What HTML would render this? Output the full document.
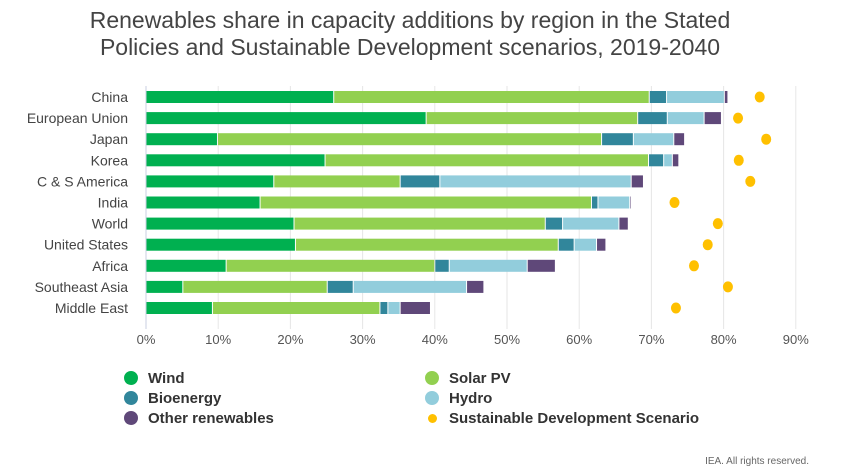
<!DOCTYPE html>
<html><head><meta charset="utf-8"><style>
body{margin:0;background:#fff;font-family:"Liberation Sans",sans-serif;}
#wrap{position:relative;width:842px;height:476px;overflow:hidden}
.title{position:absolute;left:-11px;width:842px;top:7px;text-align:center;font-size:23px;line-height:27px;color:#444}
.leg{position:absolute;font-size:15px;color:#333;font-weight:bold}
.leg span{display:inline-block;width:14px;height:14px;border-radius:50%;vertical-align:-2px;margin-right:10px}
.foot{position:absolute;right:33px;top:456px;font-size:10px;color:#666}
</style></head><body>
<div id="wrap">
<div class="title">Renewables share in capacity additions by region in the Stated<br>Policies and Sustainable Development scenarios, 2019-2040</div>
<svg id="svg" width="842" height="476" style="position:absolute;left:0;top:0"></svg>
<div class="leg" style="left:124px;top:370px"><span style="background:#00b050"></span>Wind</div>
<div class="leg" style="left:124px;top:390px"><span style="background:#31869b"></span>Bioenergy</div>
<div class="leg" style="left:124px;top:410px"><span style="background:#5f4879"></span>Other renewables</div>
<div class="leg" style="left:425px;top:370px"><span style="background:#92d050"></span>Solar PV</div>
<div class="leg" style="left:425px;top:390px"><span style="background:#92cddc"></span>Hydro</div>
<div class="leg" style="left:425px;top:410px"><span style="background:#ffc000;width:9px;height:9px;margin-left:3px;margin-right:12px;vertical-align:0"></span>Sustainable Development Scenario</div>
<div class="foot">IEA. All rights reserved.</div>
</div>
<script>
const regions=["China","European Union","Japan","Korea","C & S America","India","World","United States","Africa","Southeast Asia","Middle East"];
const wind=[26.0,38.8,9.9,24.8,17.7,15.8,20.5,20.7,11.1,5.1,9.2];
const solar=[43.7,29.3,53.2,44.8,17.5,45.9,34.8,36.4,28.9,20.0,23.2];
const bio=[2.4,4.1,4.4,2.1,5.5,0.9,2.4,2.2,2.0,3.6,1.1];
const hydro=[8.0,5.1,5.6,1.2,26.5,4.4,7.8,3.1,10.8,15.7,1.7];
const other=[0.5,2.4,1.5,0.9,1.7,0.2,1.3,1.3,3.9,2.4,4.2];
const sds=[85.0,82.0,85.9,82.1,83.7,73.2,79.2,77.8,75.9,80.6,73.4];
const ticks=[0,10,20,30,40,50,60,70,80,90];
const svg=document.getElementById('svg');const NS="http://www.w3.org/2000/svg";
const x0=146,px=7.22,y0=97,dy=21.1,bh=12;
const X=v=>x0+v*px, Y=i=>y0+i*dy;
function mk(t,a){const e=document.createElementNS(NS,t);for(const k in a)e.setAttribute(k,a[k]);svg.appendChild(e);return e;}
ticks.forEach(t=>{
 const l=mk('line',{x1:X(t),x2:X(t),y1:86,y2:329,stroke:t==0?'#c8cfe0':'#e6e6e6','stroke-width':1});
 
 
 const tx=mk('text',{x:X(t),y:344,'text-anchor':'middle','font-size':13,fill:'#555'});tx.textContent=t+'%';
 
 
});
const series=[[wind,'#00b050','wind'],[solar,'#92d050','solar'],[bio,'#31869b','bio'],[hydro,'#92cddc','hydro'],[other,'#5f4879','other']];
regions.forEach((r,i)=>{
 const lb=mk('text',{x:128,y:Y(i)+5,'text-anchor':'end','font-size':14,fill:'#444'});lb.textContent=r;
 
 
 let acc=0;
 series.forEach(s=>{const v=s[0][i];
  const b=mk('rect',{x:X(acc)+0.5,y:Y(i)-bh/2,width:Math.max(v*px-1,0.5),height:bh,fill:s[1]});
  
  
  acc+=v;});
 const d=mk('ellipse',{cx:X(sds[i]),cy:Y(i),rx:5,ry:5.5,fill:'#ffc000'});
 
 
});
</script></body></html>
